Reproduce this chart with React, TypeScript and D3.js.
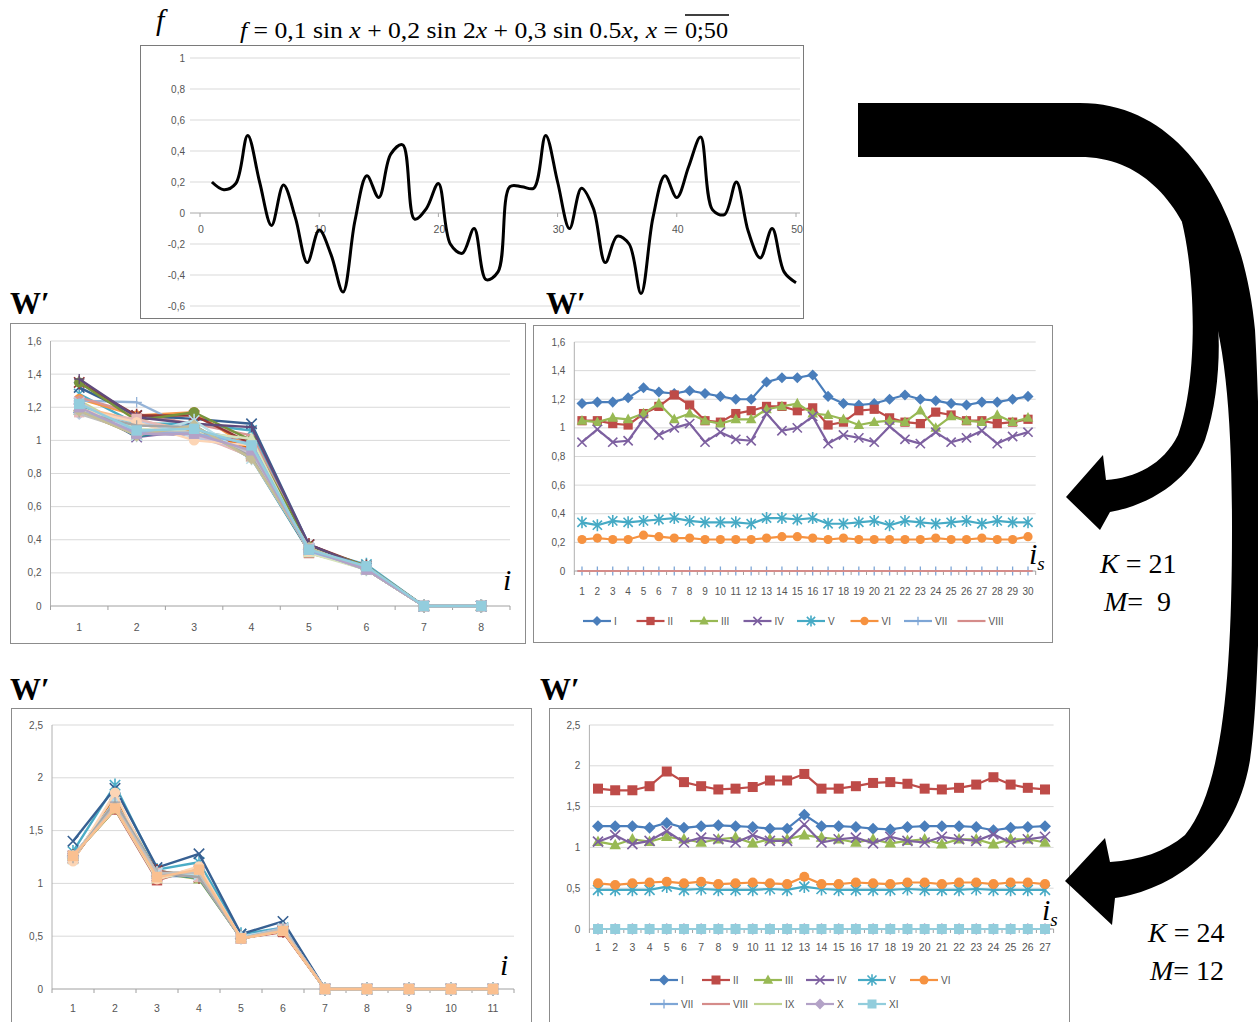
import React from "react";
import * as d3 from "d3";

// ---------------- DATA ----------------
// top chart: f(x) read at x = 1..50
const TOP_X = [1,2,3,4,5,6,7,8,9,10,11,12,13,14,15,16,17,18,19,20,21,22,23,24,25,26,27,28,29,30,31,32,33,34,35,36,37,38,39,40,41,42,43,44,45,46,47,48,49,50];
const TOP_F = [0.2,0.15,0.19,0.5,0.2,-0.08,0.18,-0.03,-0.32,-0.11,-0.27,-0.51,-0.05,0.24,0.1,0.38,0.44,-0.04,0.03,0.19,-0.2,-0.26,-0.1,-0.43,-0.38,0.17,0.17,0.16,0.5,0.2,-0.1,0.16,0.03,-0.32,-0.15,-0.2,-0.52,-0.03,0.24,0.1,0.3,0.49,0.02,-0.01,0.2,-0.12,-0.29,-0.1,-0.38,-0.45];
const TOP_Y_TICKS = [1,0.8,0.6,0.4,0.2,0,-0.2,-0.4,-0.6];
const TOP_X_TICKS = [0,10,20,30,40,50];

// K = 21, M = 9 : series I..VIII over i_s = 1..30
const ROMAN8 = ["I","II","III","IV","V","VI","VII","VIII"];
const IS30 = ["1","2","3","4","5","6","7","8","9","10","11","12","13","14","15","16","17","18","19","20","21","22","23","24","25","26","27","28","29","30"];
const M9_I = [1.17,1.18,1.18,1.21,1.28,1.25,1.24,1.26,1.24,1.22,1.2,1.2,1.32,1.35,1.35,1.37,1.22,1.17,1.16,1.17,1.2,1.23,1.2,1.19,1.17,1.16,1.18,1.18,1.2,1.22];
const M9_II = [1.05,1.05,1.03,1.02,1.1,1.15,1.23,1.16,1.05,1.04,1.1,1.12,1.15,1.15,1.12,1.14,1.02,1.04,1.12,1.13,1.07,1.04,1.03,1.11,1.09,1.05,1.05,1.03,1.04,1.06];
const M9_III = [1.05,1.04,1.07,1.06,1.1,1.17,1.06,1.1,1.05,1.03,1.06,1.06,1.13,1.15,1.17,1.1,1.09,1.06,1.02,1.04,1.05,1.04,1.12,1.0,1.08,1.05,1.04,1.09,1.04,1.07];
const M9_IV = [0.9,0.99,0.9,0.91,1.06,0.95,1.0,1.03,0.9,0.97,0.92,0.91,1.1,0.98,1.0,1.08,0.89,0.95,0.93,0.9,1.01,0.92,0.89,0.97,0.9,0.93,0.98,0.89,0.94,0.97];
const M9_V = [0.34,0.32,0.35,0.34,0.35,0.36,0.37,0.35,0.34,0.34,0.34,0.33,0.37,0.37,0.36,0.37,0.33,0.33,0.34,0.35,0.32,0.35,0.34,0.33,0.34,0.35,0.33,0.35,0.34,0.34];
const M9_VI = [0.22,0.23,0.22,0.22,0.25,0.24,0.23,0.23,0.22,0.22,0.22,0.22,0.23,0.24,0.24,0.23,0.22,0.23,0.22,0.22,0.22,0.22,0.22,0.23,0.22,0.22,0.23,0.22,0.22,0.24];
const M9_VII = [0,0,0,0,0,0,0,0,0,0,0,0,0,0,0,0,0,0,0,0,0,0,0,0,0,0,0,0,0,0];
const M9_VIII = [0,0,0,0,0,0,0,0,0,0,0,0,0,0,0,0,0,0,0,0,0,0,0,0,0,0,0,0,0,0];
const I8 = ["1","2","3","4","5","6","7","8"];

// K = 24, M = 12 : series I..XI over i_s = 1..27
const ROMAN11 = ["I","II","III","IV","V","VI","VII","VIII","IX","X","XI"];
const IS27 = ["1","2","3","4","5","6","7","8","9","10","11","12","13","14","15","16","17","18","19","20","21","22","23","24","25","26","27"];
const B_I = [1.26,1.26,1.26,1.24,1.3,1.24,1.26,1.27,1.26,1.25,1.23,1.23,1.4,1.26,1.26,1.25,1.23,1.22,1.25,1.26,1.26,1.26,1.25,1.21,1.24,1.25,1.26];
const B_II = [1.72,1.7,1.7,1.75,1.93,1.8,1.75,1.71,1.72,1.74,1.82,1.82,1.9,1.72,1.72,1.75,1.79,1.8,1.78,1.72,1.71,1.73,1.77,1.86,1.77,1.73,1.71];
const B_III = [1.07,1.03,1.1,1.07,1.13,1.1,1.06,1.1,1.12,1.05,1.1,1.1,1.15,1.12,1.1,1.06,1.1,1.05,1.08,1.1,1.04,1.1,1.1,1.04,1.1,1.1,1.06];
const B_IV = [1.07,1.15,1.04,1.08,1.2,1.06,1.12,1.1,1.06,1.15,1.08,1.08,1.28,1.06,1.1,1.12,1.05,1.13,1.08,1.06,1.13,1.1,1.08,1.16,1.06,1.1,1.13];
const B_V = [0.48,0.48,0.48,0.48,0.52,0.48,0.49,0.48,0.48,0.48,0.49,0.48,0.52,0.49,0.48,0.48,0.48,0.48,0.49,0.48,0.48,0.48,0.49,0.48,0.48,0.48,0.48];
const B_VI = [0.56,0.54,0.56,0.57,0.58,0.56,0.58,0.55,0.56,0.57,0.56,0.55,0.64,0.55,0.55,0.57,0.56,0.55,0.57,0.57,0.55,0.57,0.57,0.55,0.57,0.57,0.55];
const B_VII = [0,0,0,0,0,0,0,0,0,0,0,0,0,0,0,0,0,0,0,0,0,0,0,0,0,0,0];
const B_VIII = [0,0,0,0,0,0,0,0,0,0,0,0,0,0,0,0,0,0,0,0,0,0,0,0,0,0,0];
const B_IX = [0,0,0,0,0,0,0,0,0,0,0,0,0,0,0,0,0,0,0,0,0,0,0,0,0,0,0];
const B_X = [0,0,0,0,0,0,0,0,0,0,0,0,0,0,0,0,0,0,0,0,0,0,0,0,0,0,0];
const B_XI = [0,0,0,0,0,0,0,0,0,0,0,0,0,0,0,0,0,0,0,0,0,0,0,0,0,0,0];
const I11 = ["1","2","3","4","5","6","7","8","9","10","11"];

const Y_TICKS_16 = [0,0.2,0.4,0.6,0.8,1,1.2,1.4,1.6];
const Y_TICKS_25 = [0,0.5,1,1.5,2,2.5];

// ---------------- STYLE ----------------
type Mk = "diamond" | "square" | "triangle" | "x" | "star" | "circle" | "plus" | "dash" | "none";
const MARKERS9: Mk[] = ["diamond","square","triangle","x","star","circle","plus","dash","none"];
const PALETTE30 = [
  "#4F81BD","#C0504D","#9BBB59","#8064A2","#4BACC6","#F79646",
  "#95B3D7","#D99694","#C3D69B","#B3A2C7","#93CDDD","#FAC090",
  "#376092","#953735","#77933C","#604A7B","#31859C","#E46C0A",
  "#B9CDE5","#E6B9B8","#D7E4BD","#CCC1DA","#B7DEE8","#FCD5B5",
  "#A6A6A6","#BFBFBF","#8EB4E3","#C4BD97","#B3A2C7","#D9D9D9"];
const RIGHT_COLORS = ["#4A7EBB","#BE4B48","#98B954","#7D60A0","#46AAC5","#F69240","#7EA6D6","#D58C8A","#BFD38F","#B3A2C7","#92CDDC"];
const RIGHT_MARKERS: Mk[] = ["diamond","square","triangle","x","star","circle","plus","dash","none","diamond","square"];

const SANS = "'Liberation Sans', Arial, sans-serif";
const SERIF = "'Liberation Serif', 'Times New Roman', serif";
const fmt = (v: number) => String(+v.toFixed(1)).replace(".", ",");

interface Ser { name: string; values: number[]; color: string; marker: Mk; }

function Mark({ t, x, y, s, c }: { t: Mk; x: number; y: number; s: number; c: string }) {
  switch (t) {
    case "diamond": { const r = s * 1.2; return <path d={`M${x},${y - r}L${x + r},${y}L${x},${y + r}L${x - r},${y}Z`} fill={c} />; }
    case "square": return <rect x={x - s} y={y - s} width={2 * s} height={2 * s} fill={c} />;
    case "triangle": return <path d={`M${x},${y - s * 1.25}L${x + s * 1.15},${y + s * 0.85}L${x - s * 1.15},${y + s * 0.85}Z`} fill={c} />;
    case "x": return <path d={`M${x - s},${y - s}L${x + s},${y + s}M${x - s},${y + s}L${x + s},${y - s}`} stroke={c} strokeWidth={1.6} fill="none" />;
    case "star": return <path d={`M${x - s},${y - s}L${x + s},${y + s}M${x - s},${y + s}L${x + s},${y - s}M${x},${y - s * 1.3}L${x},${y + s * 1.3}`} stroke={c} strokeWidth={1.6} fill="none" />;
    case "circle": return <circle cx={x} cy={y} r={s} fill={c} />;
    case "plus": return <path d={`M${x - s},${y}L${x + s},${y}M${x},${y - s}L${x},${y + s}`} stroke={c} strokeWidth={1.3} fill="none" />;
    case "dash": return <path d={`M${x - s},${y}L${x + s},${y}`} stroke={c} strokeWidth={2} fill="none" />;
    default: return null;
  }
}

interface ChartProps {
  frame: [number, number, number, number];
  xRange: [number, number];
  yRange: [number, number];
  yMax: number;
  yTicks: number[];
  cats: string[];
  series: Ser[];
  ms: number;
  lw: number;
  xLabelY: number;
  xFont: number;
  legend?: { x0: number; col: number; rows: { y: number; items: number[] }[] };
}

function CatChart(p: ChartProps) {
  const x = d3.scalePoint<string>().domain(p.cats).range(p.xRange).padding(0.5);
  const y = d3.scaleLinear().domain([0, p.yMax]).range(p.yRange);
  const step = x.step();
  const line = d3.line<number>().x((_, i) => x(p.cats[i])!).y((d) => y(d));
  const [fx, fy, fw, fh] = p.frame;
  return (
    <g>
      <rect x={fx + 0.5} y={fy + 0.5} width={fw} height={fh} fill="#fff" stroke="#8c8c8c" strokeWidth={1} />
      {p.yTicks.filter((t) => t !== 0).map((t) => (
        <line key={"g" + t} x1={p.xRange[0]} x2={p.xRange[1]} y1={y(t)} y2={y(t)} stroke="#d9d9d9" strokeWidth={1} />
      ))}
      <line x1={p.xRange[0]} x2={p.xRange[0]} y1={y(0)} y2={y(p.yMax)} stroke="#b0b0b0" strokeWidth={1} />
      <line x1={p.xRange[0]} x2={p.xRange[1]} y1={y(0)} y2={y(0)} stroke="#a0a0a0" strokeWidth={1} />
      {p.cats.map((_, j) => j).concat([p.cats.length]).map((j) => (
        <line key={"t" + j} x1={p.xRange[0] + step * j} x2={p.xRange[0] + step * j} y1={y(0)} y2={y(0) + 4} stroke="#a0a0a0" />
      ))}
      {p.yTicks.map((t) => (
        <text key={"yl" + t} x={p.xRange[0] - 9} y={y(t)} dy="0.35em" textAnchor="end" fontFamily={SANS} fontSize={10} fill="#555">{fmt(t)}</text>
      ))}
      {p.cats.map((c) => (
        <text key={"xl" + c} x={x(c)!} y={p.xLabelY} dy="0.35em" textAnchor="middle" fontFamily={SANS} fontSize={p.xFont} fill="#555">{c}</text>
      ))}
      {p.series.map((s, si) => (
        <g key={"s" + si}>
          <path d={line(s.values)!} fill="none" stroke={s.color} strokeWidth={p.lw} strokeLinejoin="round" />
          {s.values.map((v, i) => (
            <Mark key={i} t={s.marker} x={x(p.cats[i])!} y={y(v)} s={p.ms} c={s.color} />
          ))}
        </g>
      ))}
      {p.legend && p.legend.rows.map((row, ri) => (
        <g key={"lr" + ri}>
          {row.items.map((si, k) => {
            const s = p.series[si];
            const lx = p.legend!.x0 + k * p.legend!.col;
            return (
              <g key={si}>
                <line x1={lx} x2={lx + 28} y1={row.y} y2={row.y} stroke={s.color} strokeWidth={p.lw} />
                <Mark t={s.marker} x={lx + 14} y={row.y} s={p.ms * 0.9} c={s.color} />
                <text x={lx + 31} y={row.y} dy="0.35em" fontFamily={SANS} fontSize={10} fill="#555">{s.name}</text>
              </g>
            );
          })}
        </g>
      ))}
    </g>
  );
}

function rightSeries(names: string[], rows: number[][]): Ser[] {
  return rows.map((values, i) => ({ name: names[i], values, color: RIGHT_COLORS[i], marker: RIGHT_MARKERS[i] }));
}

function leftSeries(rows: number[][], lastColor: string): Ser[] {
  const n = rows[0].length;
  return d3.range(n).map((k) => ({
    name: String(k + 1),
    values: rows.map((r) => r[k]),
    color: k === n - 1 ? lastColor : PALETTE30[k % PALETTE30.length],
    marker: k === n - 1 ? "square" : MARKERS9[k % 9],
  }));
}

function TopChart() {
  const x = d3.scaleLinear().domain([0, 50]).range([200, 796]);
  const y = d3.scaleLinear().domain([-0.6, 1]).range([306, 58]);
  const line = d3.line<number>().x((_, i) => x(TOP_X[i])).y((d) => y(d)).curve(d3.curveCatmullRom.alpha(0.5));
  return (
    <g>
      <rect x={140.5} y={45.5} width={663} height={273} fill="#fff" stroke="#7a7a7a" strokeWidth={1} />
      {TOP_Y_TICKS.filter((t) => t !== 0).map((t) => (
        <line key={t} x1={190} x2={800} y1={y(t)} y2={y(t)} stroke="#d9d9d9" />
      ))}
      <line x1={190} x2={800} y1={y(0)} y2={y(0)} stroke="#a8a8a8" />
      {TOP_X_TICKS.map((t) => (
        <line key={"tk" + t} x1={x(t)} x2={x(t)} y1={y(0)} y2={y(0) + 4} stroke="#a8a8a8" />
      ))}
      {TOP_Y_TICKS.map((t) => (
        <text key={"l" + t} x={185} y={y(t)} dy="0.35em" textAnchor="end" fontFamily={SANS} fontSize={10} fill="#555">{fmt(t)}</text>
      ))}
      {TOP_X_TICKS.map((t) => (
        <text key={"x" + t} x={x(t) + 1} y={229} dy="0.35em" textAnchor="middle" fontFamily={SANS} fontSize={10.5} fill="#555">{t}</text>
      ))}
      <path d={line(TOP_F)!} fill="none" stroke="#000" strokeWidth={3} strokeLinejoin="round" />
    </g>
  );
}

function WLabel({ x, y }: { x: number; y: number }) {
  return (
    <text x={x} y={y} fontFamily={SERIF} fontWeight="bold" fontSize={31} fill="#000">W′</text>
  );
}

function ILabel({ x, y, sub }: { x: number; y: number; sub?: boolean }) {
  return (
    <text x={x} y={y} fontFamily={SERIF} fontStyle="italic" fontSize={30} fill="#000">
      i{sub && <tspan fontSize={19} dy={6}>s</tspan>}
    </text>
  );
}

export default function App() {
  const mid = [M9_I, M9_II, M9_III, M9_IV, M9_V, M9_VI, M9_VII, M9_VIII];
  const bot = [B_I, B_II, B_III, B_IV, B_V, B_VI, B_VII, B_VIII, B_IX, B_X, B_XI];

  const arrowMain =
    "M858,103 L1080,103 C1190,103 1245,220 1255,330 C1262,450 1262,680 1250,760 C1235,850 1170,890 1115,898 " +
    "L1112,925 L1065,881 L1105,838 L1110,862 C1140,860 1165,852 1185,835 C1222,790 1232,680 1232,530 " +
    "C1232,420 1226,340 1205,285 C1190,215 1150,157 1080,157 L858,157 Z";
  const arrowBranch =
    "M1182,222 C1196,280 1198,380 1178,435 C1163,465 1135,478 1106,480 L1103,455 L1066,497 L1100,530 L1110,512 " +
    "C1150,505 1190,480 1205,440 C1222,390 1222,320 1212,285 C1205,255 1200,240 1195,225 Z";

  return (
    <svg width={1258} height={1022} style={{ position: "absolute", left: 0, top: 0, background: "#fff" }}>
      <rect x={0} y={0} width={1258} height={1022} fill="#fff" />
      <TopChart />

      {/* title */}
      <text x={156} y={30} fontFamily={SERIF} fontStyle="italic" fontSize={30}>f</text>
      <text x={240} y={38} fontFamily={SERIF} fontSize={23} textLength={438} lengthAdjust="spacingAndGlyphs">
        <tspan fontStyle="italic">f</tspan> = 0,1 sin <tspan fontStyle="italic">x</tspan> + 0,2 sin 2<tspan fontStyle="italic">x</tspan> + 0,3 sin 0.5<tspan fontStyle="italic">x</tspan>, <tspan fontStyle="italic">x</tspan> =
      </text>
      <text x={685} y={38} fontFamily={SERIF} fontSize={23} textLength={43} lengthAdjust="spacingAndGlyphs">0;50</text>
      <line x1={685} x2={729} y1={15} y2={15} stroke="#000" strokeWidth={1.4} />

      {/* middle row */}
      <CatChart
        frame={[10, 323, 515, 320]}
        xRange={[50.5, 510]}
        yRange={[606, 341]}
        yMax={1.6}
        yTicks={Y_TICKS_16}
        cats={I8}
        series={leftSeries(mid, "#93CDDD")}
        ms={5.2}
        lw={2.4}
        xLabelY={627}
        xFont={10.5}
      />
      <CatChart
        frame={[533, 325, 519, 317]}
        xRange={[574.3, 1035.7]}
        yRange={[571, 342]}
        yMax={1.6}
        yTicks={Y_TICKS_16}
        cats={IS30}
        series={rightSeries(ROMAN8, mid)}
        ms={4.6}
        lw={2.2}
        xLabelY={591}
        xFont={10}
        legend={{ x0: 583, col: 53.5, rows: [{ y: 621, items: [0, 1, 2, 3, 4, 5, 6, 7] }] }}
      />

      {/* bottom row */}
      <CatChart
        frame={[11, 708, 520, 330]}
        xRange={[52, 514]}
        yRange={[989, 725]}
        yMax={2.5}
        yTicks={Y_TICKS_25}
        cats={I11}
        series={leftSeries(bot, "#FAC090")}
        ms={5.2}
        lw={2.4}
        xLabelY={1008}
        xFont={10.5}
      />
      <CatChart
        frame={[549, 708, 520, 330]}
        xRange={[589.4, 1053.6]}
        yRange={[929, 725]}
        yMax={2.5}
        yTicks={Y_TICKS_25}
        cats={IS27}
        series={rightSeries(ROMAN11, bot)}
        ms={5}
        lw={2.2}
        xLabelY={947}
        xFont={10.5}
        legend={{ x0: 650, col: 52, rows: [{ y: 980, items: [0, 1, 2, 3, 4, 5] }, { y: 1004, items: [6, 7, 8, 9, 10] }] }}
      />

      {/* W' labels and axis names */}
      <WLabel x={10} y={314} />
      <WLabel x={546} y={314} />
      <WLabel x={10} y={700} />
      <WLabel x={540} y={700} />
      <ILabel x={503} y={590} />
      <ILabel x={1029} y={564} sub />
      <ILabel x={500} y={975} />
      <ILabel x={1042} y={920} sub />

      {/* arrows */}
      <path d={arrowMain} fill="#000" />
      <path d={arrowBranch} fill="#000" />

      {/* K, M labels */}
      <text x={1100} y={573} fontFamily={SERIF} fontSize={28}>
        <tspan fontStyle="italic">K</tspan> = 21
      </text>
      <text x={1104} y={611} fontFamily={SERIF} fontSize={28} style={{ whiteSpace: "pre" }}>
        <tspan fontStyle="italic">M</tspan>{"=  9"}
      </text>
      <text x={1148} y={942} fontFamily={SERIF} fontSize={28}>
        <tspan fontStyle="italic">K</tspan> = 24
      </text>
      <text x={1150} y={980} fontFamily={SERIF} fontSize={28}>
        <tspan fontStyle="italic">M</tspan>= 12
      </text>
    </svg>
  );
}
